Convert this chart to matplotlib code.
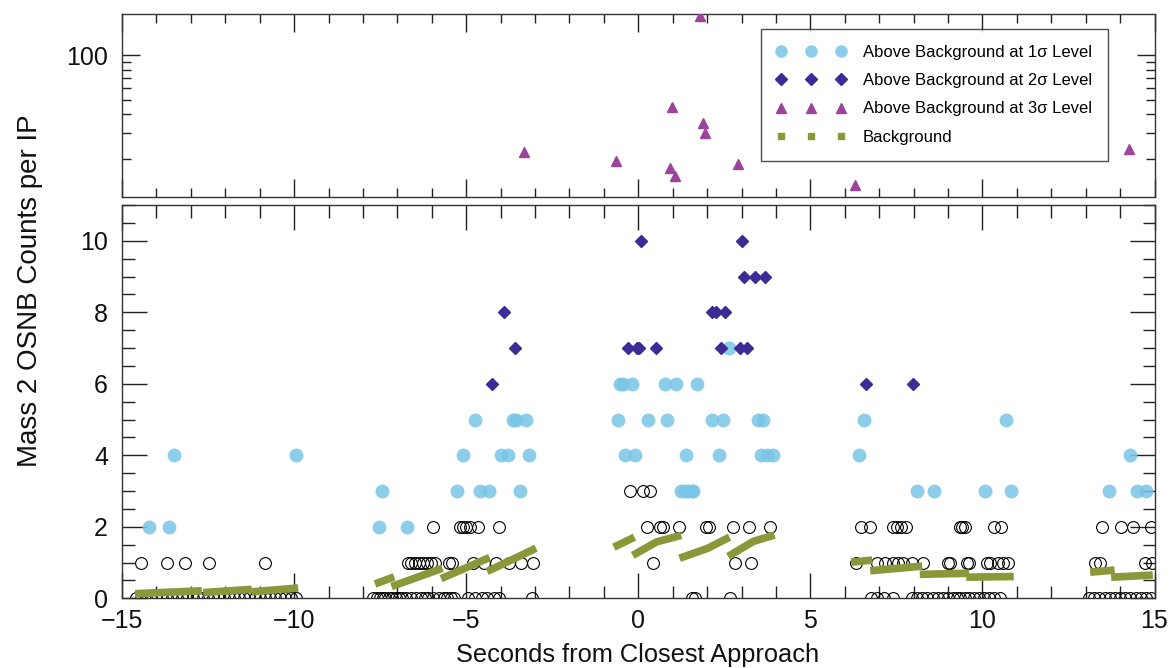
import matplotlib
matplotlib.use("Agg")
import matplotlib.pyplot as plt
from matplotlib.lines import Line2D
from matplotlib.ticker import MultipleLocator, NullFormatter, FuncFormatter

plt.rcParams['font.family'] = ['Liberation Sans', 'DejaVu Sans']

# --- counts at the background level (open circles) ---
obs0_x = [-14.6, -14.45, -14.3, -14.15, -14.0, -13.85, -13.7, -13.55, -13.4, -13.25,
          -13.1, -12.95, -12.8, -12.65, -12.5, -12.35, -12.2, -12.05, -11.9, -11.75,
          -11.6, -11.45, -11.3, -11.15, -11.0, -10.85, -10.7, -10.55, -10.4, -10.25,
          -10.1, -9.95,
          -7.7, -7.6, -7.5, -7.42, -7.35, -7.25, -7.15, -7.05, -6.95, -6.85, -6.75,
          -6.6, -6.45, -6.3, -6.2, -6.1, -5.95, -5.8, -5.65, -5.55, -5.45, -5.35,
          -4.95, -4.75, -4.55, -4.4, -4.2, -4.05, -3.1,
          1.55, 1.65, 2.68,
          6.75, 6.95, 7.15, 7.4, 7.95, 8.1, 8.25, 8.4, 8.55, 8.7, 8.85, 9.0, 9.15,
          9.25, 9.35, 9.5, 9.6, 9.75, 9.9, 10.05, 10.2, 10.35, 10.5,
          13.1, 13.25, 13.4, 13.55, 13.7, 13.85, 14.0, 14.15, 14.3, 14.45, 14.6,
          14.75, 14.9]
obs1_x = [-14.45, -13.70, -13.16, -12.47, -10.84,
          -6.7, -6.6, -6.48, -6.37, -6.25, -6.14, -6.03, -5.92, -5.5, -5.42,
          -4.81, -4.47, -4.13, -3.75, -3.41, -3.07,
          0.43, 2.80, 3.29,
          6.33, 6.93, 7.18, 7.4, 7.55, 7.7, 7.95, 8.27, 9.0, 9.05, 9.55, 9.62,
          10.14, 10.23, 10.46, 10.6, 10.75, 13.26, 13.41, 14.72, 14.92]
obs2_x = [-5.95, -5.19, -5.10, -5.00, -4.90, -4.66, -4.06,
          0.24, 0.62, 0.72, 1.19, 1.98, 2.06, 2.74, 3.21, 3.82,
          6.48, 6.72, 7.40, 7.51, 7.64, 7.79, 9.34, 9.41, 9.49, 10.35, 10.55,
          13.47, 14.04, 14.37, 14.91]
obs3_x = [-0.25, 0.14, 0.35]

# --- above background at 1 sigma ---
sig1_x = [-14.23, -13.63, -13.49, -9.95,
          -7.53, -6.71, -7.46, -5.28, -4.61, -4.33, -3.44,
          -5.08, -3.99, -3.78, -3.18, -4.74, -3.65, -3.54, -3.25,
          1.25, 1.35, 1.45, 1.55, 1.60,
          -0.39, -0.10, 1.38, 2.34, 3.56, 3.73, 3.92,
          -0.59, 0.28, 0.84, 2.13, 2.46, 3.48, 3.62,
          -0.54, -0.44, -0.18, 0.77, 1.11, 1.72,
          2.63,
          6.55, 10.69, 6.41, 14.30,
          8.11, 8.58, 10.08, 10.82, 13.69, 14.49, 14.76]
sig1_y = [2, 2, 4, 4,
          2, 2, 3, 3, 3, 3, 3,
          4, 4, 4, 4, 5, 5, 5, 5,
          3, 3, 3, 3, 3,
          4, 4, 4, 4, 4, 4, 4,
          5, 5, 5, 5, 5, 5, 5,
          6, 6, 6, 6, 6, 6,
          7,
          5, 5, 4, 4,
          3, 3, 3, 3, 3, 3, 3]

# --- above background at 2 sigma ---
sig2_x = [-4.26, 6.62, 7.98,
          -3.59, -0.31, -0.05, 0.03, 0.53, 2.40, 2.95, 3.16,
          -3.91, 2.15, 2.25, 2.53,
          3.07, 3.38, 3.69,
          0.09, 3.01]
sig2_y = [6, 6, 6,
          7, 7, 7, 7, 7, 7, 7, 7,
          8, 8, 8, 8,
          9, 9, 9,
          10, 10]

# --- above background at 3 sigma (upper panel) ---
sig3_x = [1.80, 0.99, 1.88, 1.95, -0.66, 0.92, 1.06, 2.89, 6.30, 14.27, -3.31]
sig3_y = [185, 45, 35, 30, 19.4, 17.3, 15.2, 18.3, 13.2, 23.4, 22.2]

# --- background estimate, one entry per sampling block ---
bg_x = [(-14.62, -12.68), (-12.64, -11.23), (-11.23, -9.88),
        (-7.65, -7.09), (-7.17, -5.69), (-5.73, -4.32), (-4.39, -2.97),
        (-0.71, -0.11), (-0.16, 0.54, 1.25), (1.20, 2.02, 2.65), (2.61, 3.34, 3.96),
        (6.19, 6.80), (6.74, 8.25), (8.18, 9.61), (9.53, 10.91),
        (13.13, 13.84), (13.74, 14.95)]
bg_y = [(0.13, 0.21), (0.16, 0.25), (0.18, 0.29),
        (0.40, 0.60), (0.33, 0.84), (0.55, 1.14), (0.75, 1.40),
        (1.43, 1.71), (1.20, 1.58, 1.76), (1.12, 1.40, 1.71), (1.17, 1.59, 1.77),
        (1.01, 1.07), (0.77, 0.90), (0.67, 0.70), (0.59, 0.61),
        (0.73, 0.79), (0.59, 0.65)]

c_sig1 = '#78C5E7'
c_sig2 = '#3D2C96'
c_sig3 = '#9C449C'
c_bg = '#8A983A'

fig = plt.figure(figsize=(11.7, 6.68), dpi=100)
W, H = 1170, 668
x0, x1 = 122, 1154.5
ax_top = fig.add_axes([x0 / W, 1 - 197 / H, (x1 - x0) / W, (197 - 14) / H])
ax = fig.add_axes([x0 / W, 1 - 598.3 / H, (x1 - x0) / W, (598.3 - 205) / H])

# lower panel
circ = dict(ls='none', marker='o', mfc='none', mec='black', ms=8.5, mew=0.8, zorder=2)
ax.plot(obs0_x, [0] * len(obs0_x), **circ)
ax.plot(obs1_x, [1] * len(obs1_x), **circ)
ax.plot(obs2_x, [2] * len(obs2_x), **circ)
ax.plot(obs3_x, [3] * len(obs3_x), **circ)
for sx, sy in zip(bg_x, bg_y):
    ax.plot(sx, sy, '-', color=c_bg, lw=5.5, solid_capstyle='butt', zorder=3)
ax.plot(sig1_x, sig1_y, 'o', color=c_sig1, mec='none', ms=10, alpha=0.85, zorder=4)
ax.plot(sig2_x, sig2_y, 'D', color=c_sig2, mec=c_sig2, ms=6, zorder=5)

ax.set_xlim(-15, 15)
ax.set_ylim(0, 11)
ax.xaxis.set_major_locator(MultipleLocator(5))
ax.xaxis.set_minor_locator(MultipleLocator(1))
ax.yaxis.set_major_locator(MultipleLocator(2))
ax.yaxis.set_minor_locator(MultipleLocator(0.5))
ax.tick_params(which='both', direction='in', top=True, right=True, width=1, colors='#222222',
               labelsize=18, labelcolor='#111111')
ax.tick_params(which='major', length=18)
ax.tick_params(which='minor', length=9)
ax.tick_params(axis='x', pad=8)
ax.tick_params(axis='y', pad=10)
ax.xaxis.set_major_formatter(FuncFormatter(lambda v, p: f"{v:.0f}".replace('-', '\u2212')))

# upper panel
ax_top.plot(sig3_x, sig3_y, '^', color=c_sig3, ms=7, zorder=4)
ax_top.set_yscale('log')
ax_top.set_xlim(-15, 15)
ax_top.set_ylim(11, 190)
ax_top.xaxis.set_major_locator(MultipleLocator(5))
ax_top.xaxis.set_minor_locator(MultipleLocator(1))
ax_top.xaxis.set_major_formatter(NullFormatter())
ax_top.yaxis.set_major_formatter(FuncFormatter(lambda v, p: f"{v:.0f}"))
ax_top.yaxis.set_minor_formatter(NullFormatter())
ax_top.tick_params(which='both', direction='in', top=True, right=True, width=1, colors='#222222',
                   labelsize=18, labelcolor='#111111')
ax_top.tick_params(which='major', length=13)
ax_top.tick_params(which='minor', length=6.5)
ax_top.tick_params(axis='y', pad=10)

for a in (ax, ax_top):
    for s in a.spines.values():
        s.set_color('#333333')
        s.set_linewidth(1)

handles = [
    Line2D([], [], ls='none', marker='o', color=c_sig1, mec='none', ms=9, alpha=0.85),
    Line2D([], [], ls='none', marker='D', color=c_sig2, ms=6),
    Line2D([], [], ls='none', marker='^', color=c_sig3, ms=7),
    Line2D([], [], ls='none', marker='s', color=c_bg, ms=4.5),
]
labels = ['Above Background at 1\u03c3 Level', 'Above Background at 2\u03c3 Level',
          'Above Background at 3\u03c3 Level', 'Background']
leg = ax_top.legend(handles, labels, numpoints=3, loc='upper right',
                    bbox_to_anchor=(1108 / W, 1 - 29 / H), bbox_transform=fig.transFigure,
                    fontsize=12, frameon=True, fancybox=False, edgecolor='#222222',
                    handlelength=4.2, handletextpad=1.0, labelspacing=0.8,
                    borderpad=0.95, borderaxespad=0)
leg.get_frame().set_linewidth(1)

fig.text(0.026, 1 - 291 / H, 'Mass 2 OSNB Counts per IP', rotation=90,
         ha='center', va='center', fontsize=20, color='#111111')
fig.text(0.545, 1 - 655 / H, 'Seconds from Closest Approach',
         ha='center', va='center', fontsize=18.3, color='#111111')

fig.savefig('out.png', dpi=100)
